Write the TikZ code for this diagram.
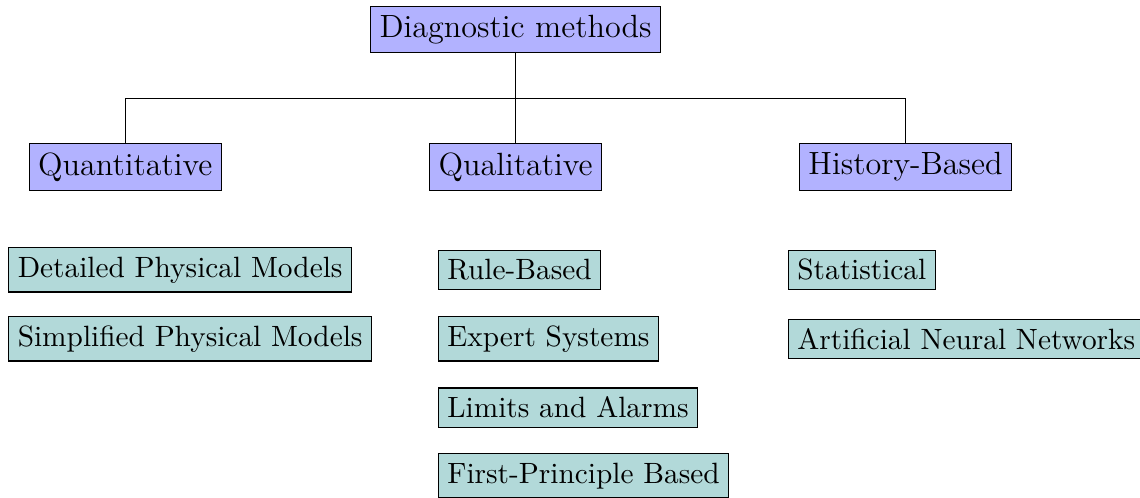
\documentclass[tikz,border=0pt]{standalone}
\usetikzlibrary{calc}
\begin{document}
\begin{tikzpicture}[x=1pt,y=1pt,
  topbox/.style={draw=black, fill=blue!30, font=\fontsize{12}{14.5}\selectfont},
  leafbox/.style={draw=black, fill=teal!30, anchor=west, font=\fontsize{10.95}{13.6}\selectfont},
  conn/.style={draw=black, line width=0.4pt}]
\useasboundingbox (0,0) rectangle (425.4,-185.8);
\node[topbox] (diag) at (192.4,-11.0) {Diagnostic methods};
\node[topbox] (quant) at (46.75,-62.3) {Quantitative};
\node[topbox] (qual) at (192.4,-62.3) {Qualitative};
\node[topbox] (hist) at (337.9,-62.3) {History-Based};
\coordinate (bar) at ($(diag.south)!0.5!(qual.north)$);
\draw[conn] (diag.south) -- (qual.north);
\draw[conn] (quant.north) |- (bar) -| (hist.north);
% Quantitative leaves
\node[leafbox] (dpm) at (3.1,-100.7) {Detailed Physical Models};
\node[leafbox] (spm) at (3.1,-126.4) {Simplified Physical Models};
% Qualitative leaves
\node[leafbox] (rb) at (163.4,-100.7) {Rule-Based};
\node[leafbox] (es) at (163.4,-126.4) {Expert Systems};
\node[leafbox] (la) at (163.4,-152.1) {Limits and Alarms};
\node[leafbox] (fp) at (163.4,-177.5) {First-Principle Based};
% History-based leaves
\node[leafbox] (st) at (294.0,-100.7) {Statistical};
\node[leafbox] (ann) at (294.0,-126.4) {Artificial Neural Networks};
\end{tikzpicture}
\end{document}
